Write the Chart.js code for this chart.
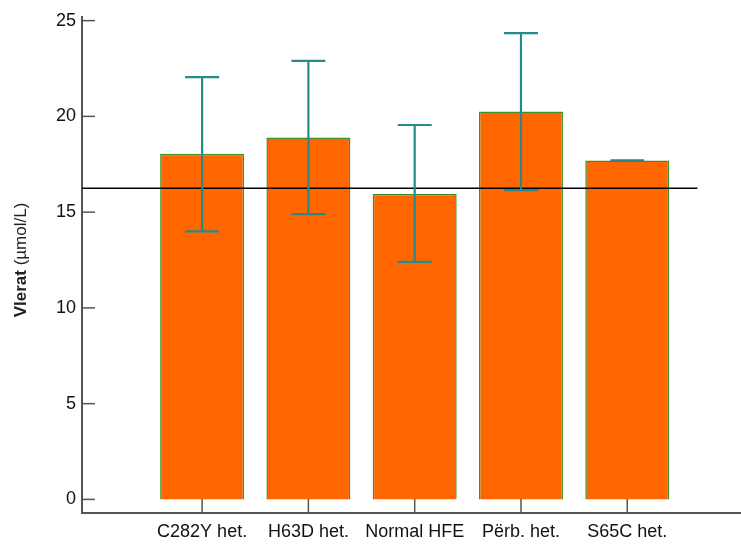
<!DOCTYPE html>
<html lang="sq">
<head>
    <meta charset="UTF-8">
    <title>Vlerat sipas gjenotipit HFE</title>
    <script src="https://cdn.jsdelivr.net/npm/chart.js"></script>
    <style>
        body { margin: 0; background: #fff; }
        canvas { display: block; }
    </style>
</head>
<body>
<canvas id="hfeChart" width="741" height="548"></canvas>

<script>
    // data
    const categories = ['C282Y het.', 'H63D het.', 'Normal HFE', 'Përb. het.', 'S65C het.'];
    const means = [18.05, 18.9, 15.95, 20.25, 17.7];
    const errLow = [14.0, 14.9, 12.4, 16.15, 17.7];
    const errHigh = [22.05, 22.9, 19.55, 24.35, 17.7];
    const yTicks = [0, 5, 10, 15, 20, 25];
    const refValue = 16.25;

    const axisColor = '#555555';
    const font = { family: 'Liberation Sans, Arial, sans-serif', size: 18 };

    // draws ticks inside the axes, error bars and the y title
    const extras = {
        id: 'extras',
        afterDatasetsDraw(chart) {
            const ctx = chart.ctx;
            const x = chart.scales.x, y = chart.scales.y;
            ctx.save();
            // error bars
            ctx.strokeStyle = '#268a8a';
            ctx.lineWidth = 2.2;
            categories.forEach((c, i) => {
                const px = x.getPixelForValue(i + 1);
                const lo = y.getPixelForValue(errLow[i]);
                const hi = y.getPixelForValue(errHigh[i]);
                ctx.beginPath();
                ctx.moveTo(px, lo); ctx.lineTo(px, hi);
                ctx.moveTo(px - 17, lo); ctx.lineTo(px + 17, lo);
                ctx.moveTo(px - 17, hi); ctx.lineTo(px + 17, hi);
                ctx.stroke();
            });
            ctx.restore();
        },
        afterDraw(chart) {
            const ctx = chart.ctx;
            const x = chart.scales.x, y = chart.scales.y;
            const area = chart.chartArea;
            ctx.save();
            ctx.strokeStyle = axisColor;
            ctx.lineWidth = 1.5;
            // y ticks pointing right
            yTicks.forEach(v => {
                const py = y.getPixelForValue(v);
                ctx.beginPath();
                ctx.moveTo(area.left, py); ctx.lineTo(area.left + 13, py);
                ctx.stroke();
            });
            // x ticks pointing up
            categories.forEach((c, i) => {
                const px = x.getPixelForValue(i + 1);
                ctx.beginPath();
                ctx.moveTo(px, area.bottom); ctx.lineTo(px, area.bottom - 14);
                ctx.stroke();
            });
            // y title, "Vlerat" bold
            ctx.translate(21, 260);
            ctx.rotate(-Math.PI / 2);
            ctx.fillStyle = '#222';
            ctx.textBaseline = 'middle';
            ctx.font = 'bold 17px ' + font.family;
            const w1 = ctx.measureText('Vlerat').width;
            ctx.font = '17px ' + font.family;
            const w2 = ctx.measureText(' (µmol/L)').width;
            let start = -(w1 + w2) / 2;
            ctx.font = 'bold 17px ' + font.family;
            ctx.fillText('Vlerat', start, 0);
            ctx.font = '17px ' + font.family;
            ctx.fillText(' (µmol/L)', start + w1, 0);
            ctx.restore();
        }
    };

    const ctx = document.getElementById('hfeChart').getContext('2d');
    const hfeChart = new Chart(ctx, {
        type: 'bar',
        data: {
            datasets: [{
                type: 'line',
                data: [{ x: -0.13, y: refValue }, { x: 5.66, y: refValue }],
                borderColor: '#000000',
                borderWidth: 1.5,
                pointRadius: 0,
                order: 0
            }, {
                data: categories.map((c, i) => ({ x: i + 1, y: means[i] })),
                backgroundColor: '#ff6600',
                borderColor: '#3f8f2a',
                borderWidth: 1.5,
                barPercentage: 1,
                categoryPercentage: 0.79,
                order: 1
            }]
        },
        options: {
            responsive: false,
            animation: false,
            layout: { padding: { top: 15, right: 0, left: 0, bottom: 0 } },
            plugins: { legend: { display: false }, tooltip: { enabled: false } },
            scales: {
                x: {
                    type: 'linear',
                    offset: false,
                    min: -0.13,
                    max: 6.07,
                    afterBuildTicks: s => { s.ticks = categories.map((c, i) => ({ value: i + 1 })); },
                    afterFit: s => { s.height = 35; },
                    ticks: {
                        callback: v => categories[v - 1],
                        color: '#111',
                        font: font,
                        padding: 8,
                        maxRotation: 0,
                        autoSkip: false
                    },
                    grid: { display: false, drawTicks: false },
                    border: { color: axisColor, width: 2 }
                },
                y: {
                    min: -0.71,
                    max: 25.2,
                    afterBuildTicks: s => { s.ticks = yTicks.map(v => ({ value: v })); },
                    afterFit: s => { s.width = 82; },
                    ticks: { color: '#111', font: font, padding: 6 },
                    grid: { display: false, drawTicks: false },
                    border: { color: axisColor, width: 2 }
                }
            }
        },
        plugins: [extras]
    });
</script>
</body>
</html>
